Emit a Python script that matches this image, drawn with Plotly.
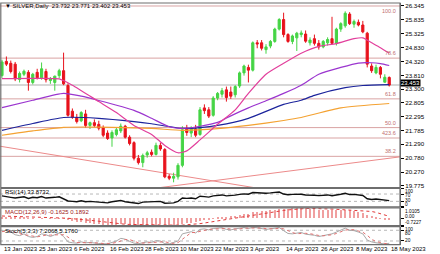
import pandas as pd
import plotly.graph_objects as go

# ---------------- data ----------------
dates = [d for d in pd.bdate_range("2023-01-13", "2023-05-18") if d != pd.Timestamp("2023-04-07")]
idx = list(range(len(dates)))

opens = [23.80, 24.32, 24.25, 24.22, 23.66, 23.85, 23.92, 23.55, 23.92, 23.72, 23.95, 23.62, 23.55, 23.80,
         23.98, 23.44, 22.50, 22.27, 22.15, 22.40, 21.98, 22.08, 22.02, 21.90, 21.70, 21.52, 21.65, 21.78,
         21.95, 21.55, 21.35, 20.78, 20.62, 20.90, 21.00, 20.92, 21.25, 21.10, 20.12, 20.05, 20.10, 20.52,
         21.85, 21.70, 21.85, 21.65, 22.62, 22.55, 22.35, 22.98, 23.12, 23.28, 23.20, 23.10, 23.42, 23.90,
         24.10, 24.00, 25.00, 25.00, 24.75, 24.88, 25.05, 25.50, 25.85, 25.30, 25.05, 25.18, 25.30, 25.32,
         25.00, 25.15, 24.98, 24.85, 25.00, 25.15, 24.98, 25.50, 25.62, 26.05, 25.68, 25.75, 25.65, 25.35,
         24.15, 23.90, 24.10, 23.56, 23.732]
highs = [24.38, 24.50, 24.35, 24.30, 23.95, 24.02, 24.00, 23.90, 24.05, 24.28, 24.05, 23.75, 23.80, 24.05,
         24.64, 23.52, 22.60, 22.40, 22.50, 22.55, 22.12, 22.20, 22.15, 21.98, 21.80, 21.80, 21.90, 22.05,
         22.00, 21.62, 21.40, 20.90, 20.95, 21.05, 21.10, 21.35, 21.35, 21.15, 20.20, 20.25, 20.60, 21.95,
         22.00, 21.95, 22.00, 22.65, 22.75, 22.65, 23.05, 23.20, 23.35, 23.40, 23.40, 23.45, 23.95, 24.20,
         24.20, 25.05, 25.10, 25.10, 24.95, 25.10, 25.55, 25.90, 26.10, 25.35, 25.30, 25.40, 25.45, 25.45,
         25.20, 25.30, 25.10, 25.10, 25.20, 25.95, 25.55, 25.75, 26.15, 26.12, 25.85, 25.85, 25.80, 25.40,
         24.25, 24.20, 24.15, 23.85, 23.771]
lows = [23.72, 24.15, 23.88, 23.60, 23.55, 23.78, 23.25, 23.48, 23.66, 23.65, 23.55, 23.50, 23.25, 23.70,
        23.45, 22.30, 22.22, 22.05, 22.10, 21.90, 21.85, 21.92, 21.80, 21.55, 21.45, 21.20, 21.58, 21.70,
        21.50, 21.25, 20.70, 20.55, 20.45, 20.80, 20.85, 20.88, 21.05, 20.05, 19.98, 19.90, 20.00, 20.45,
        21.60, 21.55, 21.55, 21.60, 22.40, 22.25, 22.30, 22.90, 23.00, 22.85, 22.95, 23.00, 23.35, 23.80,
        23.55, 23.95, 24.80, 24.72, 24.60, 24.80, 25.00, 25.45, 25.20, 25.00, 24.95, 24.70, 25.20, 25.00,
        24.90, 24.90, 24.75, 24.80, 24.90, 24.95, 24.90, 25.40, 25.55, 25.65, 25.55, 25.60, 25.35, 24.10,
        23.90, 23.85, 23.70, 23.55, 23.402]
closes = [24.30, 24.22, 23.95, 23.68, 23.88, 23.96, 23.55, 23.85, 23.72, 24.05, 23.65, 23.68, 23.78, 23.98,
          23.50, 22.35, 22.28, 22.12, 22.45, 21.98, 22.08, 21.98, 21.88, 21.62, 21.50, 21.72, 21.82, 21.95,
          21.55, 21.32, 20.78, 20.62, 20.88, 20.98, 20.92, 21.25, 21.12, 20.10, 20.05, 20.12, 20.52, 21.82,
          21.72, 21.85, 21.62, 22.55, 22.52, 22.32, 22.98, 23.15, 23.25, 23.00, 23.05, 23.40, 23.90, 24.15,
          24.00, 25.00, 24.96, 24.80, 24.85, 25.05, 25.50, 25.85, 25.30, 25.05, 25.25, 25.35, 25.36, 25.06,
          25.10, 24.98, 24.85, 25.05, 25.12, 24.98, 25.50, 25.70, 26.08, 25.70, 25.78, 25.65, 25.40, 24.22,
          23.98, 24.10, 23.85, 23.74, 23.453]

# moving averages (read at sample bars)
ma_pink_idx = [0, 7, 13, 16, 22, 26, 30, 34, 37, 40, 42, 45, 49, 53, 56, 60, 64, 68, 72, 76, 80, 82, 84, 86, 88]
ma_pink_val = [23.69, 23.70, 23.68, 23.45, 22.85, 22.45, 21.98, 21.65, 21.25, 20.98, 21.05, 21.45, 22.02,
               22.55, 23.15, 23.85, 24.25, 24.62, 24.87, 24.97, 25.15, 25.18, 25.00, 24.82, 24.62]
ma_purple_idx = [0, 7, 14, 18, 22, 30, 34, 38, 41, 45, 49, 52, 56, 60, 64, 68, 72, 77, 81, 84, 86, 88]
ma_purple_val = [22.63, 22.90, 23.15, 23.05, 22.89, 22.53, 22.24, 21.93, 21.87, 21.95, 22.09, 22.33, 22.62,
                 22.88, 23.15, 23.45, 23.85, 24.10, 24.26, 24.27, 24.24, 24.17]
ma_blue_idx = [0, 7, 14, 22, 30, 34, 41, 45, 49, 56, 64, 68, 71, 78, 82, 88]
ma_blue_val = [21.80, 22.05, 22.27, 22.24, 22.12, 22.04, 21.87, 21.90, 21.98, 22.24, 22.75, 22.90, 23.08,
               23.36, 23.44, 23.47]
ma_orange_idx = [0, 7, 14, 22, 34, 41, 49, 56, 64, 68, 77, 88]
ma_orange_val = [21.62, 21.78, 21.91, 21.92, 21.87, 21.80, 21.86, 21.98, 22.16, 22.27, 22.62, 22.78]

fib_levels = [26.345, 24.44, 22.95, 21.90, 21.52, 20.85, 19.60]
fib_labels = ["100.0", "78.6", "61.8", "50.0", "423.6", "38.2", "23.6"]

trend_down = [(-0.45, 21.22), (60.0, 19.636)]
trend_up = [(33.0, 19.648), (90.45, 20.83)]

price_ticks = [19.775, 20.270, 20.780, 21.290, 21.785, 22.295, 22.805, 23.300, 23.810, 24.320,
               24.830, 25.325, 25.835, 26.345]

rsi = [60, 58, 52, 48, 53, 55, 46, 52, 50, 56, 48, 48, 52, 55,
       45, 32, 30, 28, 33, 28, 30, 28, 27, 24, 22, 28, 32, 35,
       28, 25, 20, 18, 26, 28, 26, 32, 30, 20, 19, 22, 30, 48,
       46, 48, 44, 58, 56, 53, 60, 63, 65, 60, 61, 64, 68, 71,
       69, 78, 77, 75, 74, 76, 79, 81, 70, 66, 68, 69, 69, 65,
       66, 63, 61, 64, 65, 61, 67, 69, 74, 67, 68, 66, 62, 44,
       40, 43, 39, 37, 33.8732]
rsi_ticks = [100, 70, 30, 0]

macd_main = [0.15, 0.14, 0.12, 0.08, 0.06, 0.05, 0.02, 0.01, 0.0, 0.02, 0.0, -0.02, -0.01, 0.02,
             -0.01, -0.12, -0.22, -0.31, -0.36, -0.43, -0.47, -0.51, -0.55, -0.60, -0.64, -0.64, -0.62, -0.58,
             -0.59, -0.62, -0.68, -0.71, -0.70, -0.67, -0.65, -0.60, -0.58, -0.65, -0.70, -0.7227, -0.70, -0.58,
             -0.49, -0.42, -0.37, -0.26, -0.17, -0.11, -0.02, 0.06, 0.14, 0.18, 0.22, 0.27, 0.34, 0.41,
             0.46, 0.58, 0.66, 0.72, 0.76, 0.80, 0.86, 0.93, 0.95, 0.96, 0.98, 1.0105, 1.00, 0.97,
             0.93, 0.90, 0.86, 0.83, 0.81, 0.79, 0.79, 0.80, 0.82, 0.78, 0.72, 0.64, 0.54, 0.38,
             0.24, 0.12, 0.03, -0.07, -0.1625]
macd_signal = [0.22, 0.21, 0.19, 0.17, 0.15, 0.13, 0.11, 0.09, 0.07, 0.06, 0.05, 0.04, 0.03, 0.03,
               0.02, 0.00, -0.03, -0.06, -0.10, -0.14, -0.19, -0.24, -0.29, -0.35, -0.41, -0.47, -0.52, -0.56,
               -0.58, -0.60, -0.61, -0.63, -0.65, -0.66, -0.67, -0.67, -0.66, -0.66, -0.66, -0.67, -0.67, -0.66,
               -0.64, -0.61, -0.57, -0.52, -0.46, -0.39, -0.32, -0.24, -0.16, -0.10, -0.03, 0.04, 0.11, 0.18,
               0.24, 0.31, 0.37, 0.44, 0.51, 0.58, 0.64, 0.70, 0.76, 0.81, 0.86, 0.90, 0.93, 0.95,
               0.96, 0.96, 0.95, 0.93, 0.91, 0.89, 0.87, 0.85, 0.84, 0.82, 0.81, 0.79, 0.77, 0.73,
               0.66, 0.57, 0.46, 0.33, 0.1892]
macd_ticks = [1.0105, 0.0, -0.7227]
macd_tick_text = ["1.0105", "0.00", "-0.7227"]

stoch_k = [75, 80, 70, 55, 50, 60, 45, 40, 45, 60, 55, 45, 55, 65,
           45, 15, 10, 8, 15, 10, 12, 8, 6, 5, 4, 12, 20, 35,
           30, 18, 8, 5, 10, 15, 12, 22, 20, 5, 4, 10, 20, 60,
           68, 72, 65, 85, 88, 82, 90, 92, 94, 85, 82, 88, 92, 95,
           90, 96, 94, 88, 85, 88, 92, 95, 78, 62, 60, 62, 68, 58,
           56, 52, 45, 50, 55, 60, 70, 80, 92, 80, 78, 70, 60, 25,
           15, 10, 5, 3.3, 7.2068]
stoch_d = [72, 76, 75, 68, 58, 55, 52, 48, 43, 48, 53, 53, 52, 55,
           55, 42, 23, 11, 11, 11, 12, 10, 9, 6, 5, 7, 12, 22,
           28, 28, 19, 10, 8, 10, 12, 16, 18, 16, 10, 6, 11, 30,
           49, 67, 68, 74, 79, 85, 87, 88, 92, 90, 87, 85, 87, 92,
           92, 94, 93, 93, 89, 87, 88, 92, 88, 78, 67, 61, 63, 63,
           61, 55, 51, 49, 50, 55, 62, 70, 81, 84, 83, 76, 69, 52,
           30, 17, 10, 6, 5.176]
stoch_ticks = [100, 80, 20]

date_tick_labels = ["13 Jan 2023", "25 Jan 2023", "6 Feb 2023", "16 Feb 2023", "28 Feb 2023", "10 Mar 2023",
                    "22 Mar 2023", "3 Apr 2023", "14 Apr 2023", "26 Apr 2023", "8 May 2023", "18 May 2023"]

# ---------------- layout helpers ----------------
H = 254.0
def py(pix):
    return 1 - pix / H

FONT = "Liberation Sans"
dom_main = [py(188), py(2)]
dom_rsi = [py(207.5), py(189)]
dom_macd = [py(226.5), py(208.5)]
dom_sto = [py(245.5), py(227.5)]

fig = go.Figure()

fig.add_trace(go.Candlestick(
    x=idx, open=opens, high=highs, low=lows, close=closes,
    increasing=dict(line=dict(color="#45d445", width=1), fillcolor="#45d445"),
    decreasing=dict(line=dict(color="#e8121c", width=1), fillcolor="#e8121c"),
    whiskerwidth=0, xaxis="x", yaxis="y", showlegend=False, hoverinfo="skip"))

for xs, ys, col in [(ma_orange_idx, ma_orange_val, "#f4a232"),
                    (ma_blue_idx, ma_blue_val, "#1c249c"),
                    (ma_purple_idx, ma_purple_val, "#9b35cf"),
                    (ma_pink_idx, ma_pink_val, "#e23f9c")]:
    fig.add_trace(go.Scatter(x=xs, y=ys, mode="lines", line=dict(color=col, width=1.2, shape="spline", smoothing=0.6),
                             xaxis="x", yaxis="y", showlegend=False, hoverinfo="skip"))

fig.add_trace(go.Scatter(x=idx, y=rsi, mode="lines", line=dict(color="#111111", width=1.4),
                         xaxis="x", yaxis="y2", showlegend=False, hoverinfo="skip"))

fig.add_trace(go.Bar(x=idx, y=macd_main, width=0.2, marker=dict(color="#f0a0a0", line=dict(width=0)),
                     xaxis="x", yaxis="y3", showlegend=False, hoverinfo="skip"))
fig.add_trace(go.Scatter(x=idx, y=macd_signal, mode="lines", line=dict(color="#e03a3a", width=1, dash="dot"),
                         xaxis="x", yaxis="y3", showlegend=False, hoverinfo="skip"))

fig.add_trace(go.Scatter(x=idx, y=stoch_k, mode="lines", line=dict(color="#a8a8a8", width=1),
                         xaxis="x", yaxis="y4", showlegend=False, hoverinfo="skip"))
fig.add_trace(go.Scatter(x=idx, y=stoch_d, mode="lines", line=dict(color="#e07070", width=1, dash="dot"),
                         xaxis="x", yaxis="y4", showlegend=False, hoverinfo="skip"))

shapes = []
for lv in fib_levels:
    shapes.append(dict(type="line", xref="paper", x0=0, x1=1, yref="y", y0=lv, y1=lv,
                       line=dict(color="#d9a3a3", width=1), layer="below"))
shapes.append(dict(type="line", xref="paper", x0=0, x1=1, yref="y", y0=closes[-1], y1=closes[-1],
                   line=dict(color="#cacaca", width=1.5), layer="below"))
for (a, b) in [trend_down, trend_up]:
    shapes.append(dict(type="line", xref="x", yref="y", x0=a[0], y0=a[1], x1=b[0], y1=b[1],
                       line=dict(color="#ec8a8a", width=1), layer="below"))
for lv, yr in [(70, "y2"), (30, "y2"), (80, "y4"), (20, "y4")]:
    shapes.append(dict(type="line", xref="paper", x0=0, x1=1, yref=yr, y0=lv, y1=lv,
                       line=dict(color="#b8b8b8", width=1, dash="dot"), layer="below"))
for d in [dom_main, dom_rsi, dom_macd, dom_sto]:
    shapes.append(dict(type="rect", xref="paper", yref="paper", x0=0.002, x1=1, y0=d[0], y1=d[1],
                       line=dict(color="#6e6e6e", width=1.2), fillcolor="rgba(0,0,0,0)"))

ann = []
small = dict(family=FONT, size=6, color="#000000")
ann.append(dict(xref="paper", yref="paper", x=0.008, y=py(5), xanchor="left", yanchor="middle",
                text="▼ SILVER,Daily  23.732 23.771 23.402 23.453", showarrow=False, font=small))
ann.append(dict(xref="paper", yref="paper", x=0.008, y=py(193), xanchor="left", yanchor="middle",
                text="RSI(14) 33.8732", showarrow=False, font=small))
ann.append(dict(xref="paper", yref="paper", x=0.008, y=py(212.5), xanchor="left", yanchor="middle",
                text="MACD(12,26,9) -0.1625 0.1892", showarrow=False, font=dict(family=FONT, size=6, color="#a02020")))
ann.append(dict(xref="paper", yref="paper", x=0.008, y=py(231.5), xanchor="left", yanchor="middle",
                text="Stoch(5,3,3) 7.2068 5.1760", showarrow=False, font=small))
for lv, lb in zip(fib_levels, fib_labels):
    ann.append(dict(xref="paper", yref="y", x=0.995, y=lv, xanchor="right",
                    yanchor="top" if lb == "100.0" else "bottom",
                    text=lb, showarrow=False, font=dict(family=FONT, size=5.5, color="#c07070")))
ann.append(dict(xref="paper", yref="y", x=1.0, y=closes[-1], xanchor="left", yanchor="middle", yshift=2,
                text="23.453", showarrow=False, bgcolor="#000000", borderpad=0,
                font=dict(family=FONT, size=6, color="#ffffff")))
for k, lb in enumerate(date_tick_labels):
    ann.append(dict(xref="x", yref="paper", x=k * 8, y=py(249.5), xanchor="left", yanchor="middle",
                    text=lb, showarrow=False, font=small))

tiny = dict(family=FONT, size=4.8, color="#000")
for txt, pix in zip([str(v) for v in rsi_ticks], [191.6, 195.6, 201.0, 205.2]):
    ann.append(dict(xref="paper", yref="paper", x=1.008, y=py(pix), xanchor="left", yanchor="middle",
                    text=txt, showarrow=False, font=tiny))
for txt, pix in zip(macd_tick_text, [212.0, 217.6, 222.8]):
    ann.append(dict(xref="paper", yref="paper", x=1.008, y=py(pix), xanchor="left", yanchor="middle",
                    text=txt, showarrow=False, font=tiny))
for txt, pix in zip([str(v) for v in stoch_ticks], [230.2, 234.4, 241.8]):
    ann.append(dict(xref="paper", yref="paper", x=1.008, y=py(pix), xanchor="left", yanchor="middle",
                    text=txt, showarrow=False, font=tiny))

axis_common = dict(side="right", showgrid=False, zeroline=False, ticks="outside", ticklen=3,
                   tickcolor="#000", showline=True, linecolor="#6e6e6e", anchor="x",
                   tickfont=dict(family=FONT, size=6.2, color="#000"))

fig.update_layout(
    width=440, height=254, margin=dict(l=0, r=40, t=0, b=0),
    paper_bgcolor="white", plot_bgcolor="white", showlegend=False, bargap=0,
    xaxis=dict(domain=[0, 1], range=[-0.45, 90.45], showticklabels=False, showgrid=False, zeroline=False,
               rangeslider=dict(visible=False), anchor="y4", showline=False, ticks=""),
    yaxis=dict(domain=dom_main, range=[19.71, 26.455], tickvals=price_ticks,
               ticktext=[f"{v:.3f}" for v in price_ticks], **axis_common),
    yaxis2=dict(domain=dom_rsi, range=[0, 100], tickvals=rsi_ticks, ticktext=[""] * len(rsi_ticks),
                **axis_common),
    yaxis3=dict(domain=dom_macd, range=[-0.7227, 1.0105], tickvals=macd_ticks,
                ticktext=[""] * len(macd_ticks), **axis_common),
    yaxis4=dict(domain=dom_sto, range=[0, 100], tickvals=stoch_ticks, ticktext=[""] * len(stoch_ticks),
                **axis_common),
    shapes=shapes, annotations=ann,
)

fig.write_html("out.html")
